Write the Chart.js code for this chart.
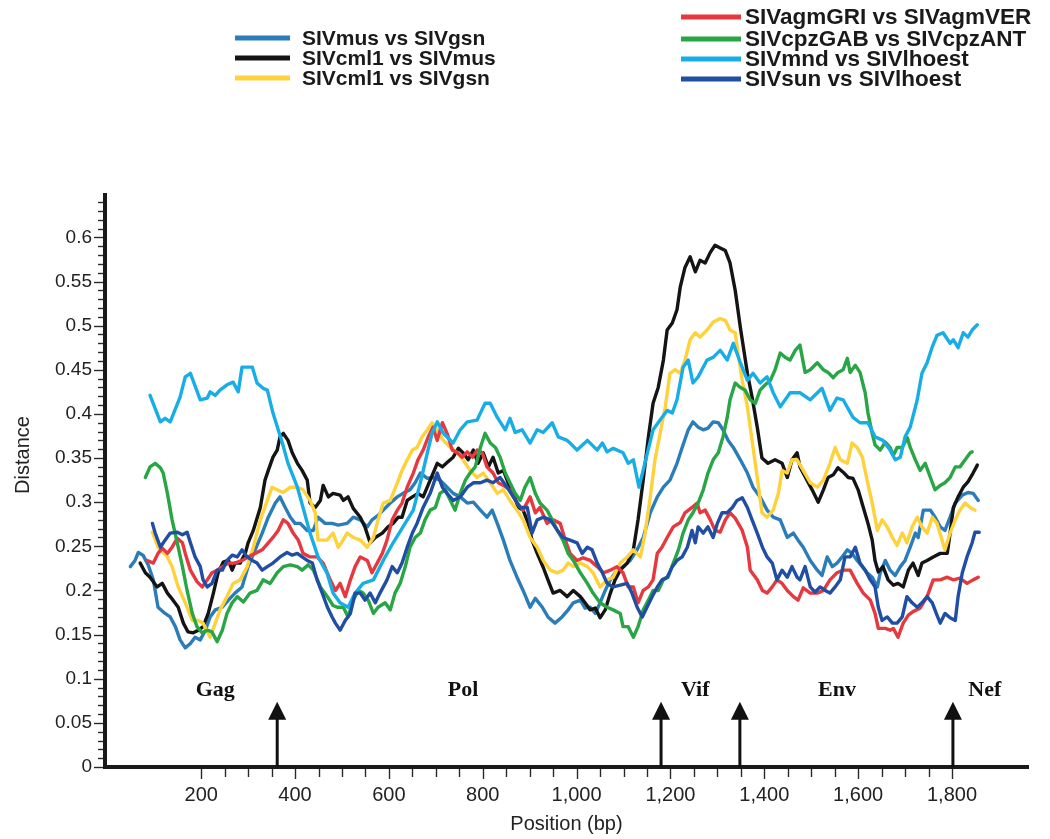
<!DOCTYPE html>
<html>
<head>
<meta charset="utf-8">
<script src="https://cdn.jsdelivr.net/npm/chart.js@4.4.1/dist/chart.umd.min.js"></script>
<style>
  html, body { margin: 0; padding: 0; background: #ffffff; }
  #wrap { position: relative; width: 1050px; height: 839px; }
</style>
</head>
<body>
<div id="wrap"><canvas id="chart" width="1050" height="839"></canvas></div>
<script>
// Pairwise distance along the genome, [position (bp), distance]
const musGsn = [[49,.227],[59,.234],[66,.243],[76,.240],[87,.229],[98,.212],[108,.181],[123,.174],[134,.170],[145,.159],[155,.144],[166,.135],[177,.140],[187,.147],[198,.144],[209,.155],[219,.170],[230,.178],[245,.181],[258,.189],[272,.197],[287,.204],[300,.227],[315,.246],[330,.265],[343,.283],[358,.299],[368,.306],[379,.294],[390,.283],[400,.276],[411,.276],[426,.268],[439,.268],[449,.283],[464,.276],[479,.276],[492,.274],[511,.276],[524,.283],[539,.280],[554,.272],[564,.280],[577,.285],[588,.291],[603,.299],[618,.306],[630,.310],[645,.314],[656,.322],[667,.333],[682,.327],[694,.328],[709,.325],[724,.317],[737,.310],[752,.306],[767,.299],[780,.300],[795,.291],[809,.283],[820,.291],[831,.276],[844,.257],[858,.234],[873,.215],[886,.200],[901,.181],[912,.191],[927,.181],[939,.170],[954,.163],[969,.170],[982,.178],[993,.186],[1008,.189],[1018,.180],[1029,.181],[1040,.174],[1050,.186],[1061,.200],[1072,.212],[1086,.223],[1099,.227],[1114,.234],[1129,.246],[1142,.260],[1157,.288],[1172,.306],[1185,.317],[1199,.325],[1214,.344],[1225,.362],[1238,.382],[1248,.391],[1259,.385],[1270,.382],[1280,.384],[1291,.391],[1302,.390],[1312,.382],[1323,.370],[1334,.362],[1349,.348],[1364,.333],[1376,.317],[1391,.306],[1406,.291],[1419,.283],[1434,.280],[1449,.260],[1462,.265],[1472,.257],[1483,.249],[1498,.234],[1513,.223],[1523,.217],[1534,.238],[1545,.227],[1555,.231],[1566,.238],[1577,.246],[1587,.242],[1598,.234],[1609,.227],[1619,.220],[1630,.215],[1641,.204],[1647,.220],[1658,.234],[1668,.223],[1679,.217],[1690,.227],[1700,.234],[1711,.249],[1722,.265],[1728,.260],[1739,.291],[1754,.291],[1764,.283],[1775,.272],[1785,.268],[1796,.283],[1807,.299],[1822,.308],[1834,.311],[1845,.310],[1856,.302]];

const cml1Mus = [[70,.231],[81,.220],[91,.215],[106,.204],[117,.208],[128,.197],[140,.189],[151,.181],[162,.163],[172,.153],[183,.152],[194,.155],[204,.159],[215,.174],[226,.197],[236,.220],[247,.232],[258,.234],[266,.223],[272,.231],[283,.231],[294,.242],[300,.254],[311,.268],[326,.294],[336,.325],[343,.336],[353,.351],[362,.359],[368,.374],[375,.378],[385,.370],[394,.356],[405,.344],[415,.336],[426,.325],[432,.299],[443,.294],[454,.302],[460,.319],[471,.306],[481,.310],[496,.308],[503,.302],[513,.306],[524,.293],[539,.283],[549,.272],[560,.254],[571,.260],[586,.265],[598,.272],[609,.276],[620,.283],[628,.283],[639,.302],[650,.306],[662,.310],[673,.306],[688,.325],[703,.344],[714,.340],[724,.345],[737,.351],[748,.361],[758,.356],[769,.348],[780,.359],[790,.344],[801,.356],[812,.340],[822,.351],[833,.333],[844,.336],[854,.322],[865,.310],[876,.294],[886,.291],[897,.276],[905,.257],[916,.242],[929,.226],[939,.212],[950,.197],[965,.200],[980,.193],[993,.200],[1008,.193],[1018,.186],[1029,.178],[1040,.180],[1050,.169],[1061,.178],[1072,.197],[1082,.212],[1093,.223],[1108,.231],[1121,.246],[1131,.280],[1142,.325],[1153,.374],[1163,.412],[1174,.430],[1185,.461],[1193,.495],[1204,.503],[1214,.518],[1221,.544],[1231,.566],[1242,.578],[1253,.561],[1263,.574],[1274,.571],[1285,.583],[1295,.591],[1306,.588],[1317,.585],[1327,.571],[1338,.540],[1349,.498],[1364,.446],[1374,.419],[1385,.385],[1395,.350],[1408,.344],[1423,.348],[1438,.344],[1449,.328],[1459,.348],[1470,.356],[1476,.340],[1491,.325],[1502,.314],[1515,.300],[1526,.314],[1536,.328],[1547,.331],[1557,.339],[1568,.334],[1579,.328],[1589,.327],[1600,.314],[1611,.294],[1621,.276],[1630,.257],[1636,.234],[1643,.221],[1653,.227],[1664,.212],[1675,.206],[1685,.208],[1696,.204],[1707,.223],[1717,.231],[1728,.217],[1736,.231],[1747,.234],[1760,.238],[1775,.242],[1790,.242],[1796,.265],[1803,.294],[1813,.306],[1824,.317],[1834,.323],[1845,.333],[1854,.342]];

const cml1Gsn = [[96,.266],[108,.249],[128,.238],[138,.227],[151,.204],[166,.186],[181,.166],[194,.166],[204,.163],[219,.147],[230,.163],[240,.178],[255,.193],[268,.208],[283,.212],[298,.227],[311,.249],[326,.280],[341,.302],[351,.317],[362,.314],[375,.311],[390,.317],[405,.317],[417,.314],[432,.302],[443,.288],[449,.257],[468,.257],[481,.265],[492,.249],[500,.255],[511,.265],[524,.260],[539,.257],[554,.249],[567,.260],[577,.280],[588,.299],[603,.302],[618,.322],[628,.336],[639,.348],[650,.359],[660,.362],[671,.374],[682,.382],[692,.390],[703,.382],[716,.370],[731,.362],[746,.356],[758,.348],[773,.336],[788,.328],[801,.333],[816,.322],[831,.310],[844,.314],[858,.302],[873,.291],[886,.280],[901,.260],[916,.249],[929,.234],[944,.223],[959,.220],[971,.223],[982,.231],[993,.227],[1008,.231],[1023,.227],[1035,.220],[1050,.204],[1065,.212],[1078,.215],[1093,.231],[1108,.238],[1121,.246],[1136,.238],[1146,.265],[1157,.306],[1167,.348],[1178,.378],[1189,.408],[1199,.446],[1210,.450],[1221,.446],[1231,.461],[1242,.484],[1253,.492],[1263,.487],[1278,.495],[1291,.504],[1306,.508],[1317,.506],[1327,.495],[1338,.492],[1344,.469],[1353,.438],[1364,.408],[1374,.370],[1385,.328],[1395,.288],[1406,.283],[1419,.291],[1430,.310],[1438,.336],[1449,.333],[1459,.348],[1470,.348],[1483,.336],[1498,.322],[1513,.317],[1526,.325],[1540,.344],[1551,.362],[1562,.348],[1577,.344],[1587,.367],[1598,.362],[1609,.351],[1619,.325],[1630,.299],[1641,.268],[1651,.280],[1662,.272],[1673,.260],[1683,.251],[1694,.265],[1704,.254],[1715,.272],[1726,.283],[1736,.272],[1747,.265],[1758,.283],[1768,.276],[1779,.257],[1785,.246],[1796,.265],[1807,.280],[1817,.291],[1828,.299],[1839,.294],[1849,.291]];

const agmGriVer = [[85,.234],[98,.231],[108,.242],[117,.248],[128,.242],[138,.249],[149,.259],[160,.254],[166,.242],[177,.223],[191,.210],[202,.204],[213,.212],[223,.220],[234,.223],[245,.227],[258,.231],[272,.231],[287,.234],[300,.238],[315,.242],[330,.246],[343,.254],[353,.260],[364,.268],[375,.280],[385,.276],[396,.265],[407,.257],[417,.242],[432,.238],[447,.238],[460,.231],[475,.212],[486,.200],[496,.208],[507,.193],[518,.212],[528,.227],[539,.238],[554,.234],[564,.220],[575,.231],[586,.242],[596,.257],[607,.280],[618,.291],[628,.299],[639,.317],[652,.333],[662,.348],[673,.359],[684,.374],[694,.385],[703,.370],[714,.390],[724,.378],[735,.359],[746,.356],[756,.351],[767,.357],[778,.351],[788,.359],[799,.356],[809,.340],[822,.333],[833,.322],[844,.319],[858,.314],[873,.299],[886,.291],[901,.306],[912,.288],[922,.294],[937,.276],[950,.280],[965,.276],[976,.257],[986,.242],[1001,.234],[1014,.237],[1029,.234],[1044,.227],[1057,.220],[1072,.223],[1086,.227],[1099,.220],[1110,.204],[1121,.204],[1131,.186],[1142,.200],[1153,.204],[1163,.212],[1172,.242],[1182,.249],[1193,.260],[1206,.272],[1221,.277],[1231,.288],[1246,.294],[1257,.299],[1263,.288],[1274,.291],[1285,.280],[1295,.268],[1306,.266],[1317,.280],[1327,.288],[1338,.282],[1353,.268],[1364,.249],[1370,.223],[1385,.212],[1396,.200],[1406,.197],[1417,.204],[1427,.212],[1438,.208],[1449,.200],[1462,.193],[1472,.189],[1483,.203],[1498,.197],[1513,.197],[1526,.200],[1540,.212],[1555,.220],[1568,.223],[1583,.223],[1598,.208],[1611,.197],[1626,.189],[1636,.174],[1643,.157],[1658,.157],[1668,.155],[1675,.157],[1685,.147],[1696,.163],[1707,.172],[1717,.176],[1732,.180],[1747,.193],[1760,.212],[1775,.212],[1790,.215],[1803,.212],[1817,.214],[1832,.208],[1845,.212],[1856,.215]];

const cpzGabAnt = [[81,.328],[91,.340],[102,.344],[113,.339],[119,.333],[128,.310],[138,.280],[149,.254],[160,.227],[170,.200],[181,.174],[191,.159],[202,.152],[213,.155],[223,.153],[234,.142],[245,.155],[255,.174],[266,.186],[277,.193],[290,.187],[304,.197],[319,.200],[332,.212],[347,.208],[362,.220],[375,.227],[390,.229],[405,.227],[415,.223],[428,.229],[439,.223],[454,.204],[469,.193],[481,.183],[490,.181],[503,.181],[513,.170],[524,.189],[535,.200],[545,.197],[556,.189],[567,.174],[577,.181],[592,.186],[603,.178],[613,.197],[624,.208],[635,.227],[645,.249],[656,.260],[667,.265],[677,.280],[688,.291],[699,.294],[709,.310],[720,.314],[731,.302],[741,.291],[752,.310],[763,.325],[773,.333],[784,.340],[795,.362],[805,.378],[816,.367],[827,.362],[837,.351],[848,.333],[858,.322],[869,.310],[880,.302],[890,.317],[901,.328],[912,.310],[922,.299],[937,.291],[948,.280],[959,.268],[971,.257],[982,.242],[993,.234],[1008,.220],[1023,.208],[1035,.197],[1050,.186],[1065,.181],[1078,.178],[1093,.174],[1099,.159],[1110,.159],[1121,.147],[1131,.159],[1142,.178],[1153,.189],[1163,.200],[1174,.200],[1185,.212],[1195,.215],[1206,.231],[1217,.246],[1227,.265],[1238,.280],[1248,.288],[1259,.299],[1270,.314],[1280,.333],[1291,.348],[1302,.356],[1312,.374],[1321,.396],[1327,.416],[1338,.435],[1349,.430],[1359,.427],[1370,.416],[1381,.412],[1391,.427],[1402,.433],[1413,.438],[1423,.450],[1434,.469],[1445,.464],[1455,.461],[1466,.472],[1476,.478],[1487,.447],[1498,.450],[1513,.458],[1526,.450],[1536,.447],[1547,.441],[1557,.447],[1568,.450],[1577,.463],[1583,.447],[1594,.455],[1604,.447],[1615,.424],[1621,.401],[1630,.378],[1636,.365],[1647,.359],[1658,.368],[1668,.362],[1675,.353],[1683,.362],[1694,.362],[1705,.373],[1711,.362],[1722,.348],[1732,.336],[1743,.344],[1754,.328],[1764,.314],[1775,.319],[1785,.322],[1796,.328],[1807,.340],[1817,.340],[1828,.348],[1839,.356],[1843,.357]];

const mndLhoest = [[91,.421],[113,.391],[123,.395],[134,.391],[155,.419],[166,.442],[177,.446],[198,.416],[213,.418],[219,.425],[230,.421],[240,.427],[255,.433],[268,.436],[279,.425],[287,.453],[309,.453],[319,.435],[332,.429],[341,.427],[353,.401],[373,.367],[385,.344],[405,.317],[417,.294],[432,.265],[449,.238],[468,.220],[481,.197],[496,.186],[513,.181],[528,.197],[545,.208],[567,.212],[588,.234],[609,.254],[630,.272],[652,.291],[667,.322],[682,.356],[692,.378],[703,.391],[716,.378],[737,.367],[752,.382],[767,.391],[788,.393],[805,.412],[816,.412],[831,.396],[848,.382],[858,.395],[869,.379],[884,.382],[901,.367],[916,.382],[929,.379],[948,.390],[961,.374],[980,.370],[986,.367],[1001,.359],[1023,.370],[1044,.359],[1055,.367],[1065,.357],[1078,.361],[1099,.356],[1110,.344],[1121,.348],[1133,.317],[1163,.382],[1178,.393],[1193,.404],[1204,.401],[1214,.416],[1227,.453],[1238,.461],[1248,.435],[1259,.442],[1278,.461],[1291,.464],[1306,.472],[1321,.461],[1334,.480],[1349,.458],[1364,.438],[1376,.446],[1391,.435],[1406,.442],[1419,.424],[1434,.408],[1455,.424],[1476,.424],[1498,.416],[1523,.429],[1540,.404],[1555,.418],[1568,.416],[1589,.396],[1604,.390],[1621,.390],[1636,.374],[1653,.370],[1668,.359],[1679,.348],[1690,.351],[1700,.374],[1711,.385],[1726,.416],[1736,.446],[1747,.458],[1758,.476],[1768,.489],[1781,.492],[1796,.480],[1803,.484],[1813,.475],[1824,.492],[1834,.487],[1843,.495],[1854,.501]];

const sunLhoest = [[96,.276],[102,.265],[113,.249],[123,.257],[134,.265],[149,.266],[160,.263],[170,.266],[177,.254],[187,.238],[198,.227],[204,.212],[213,.204],[223,.208],[234,.223],[245,.223],[255,.234],[266,.240],[277,.238],[287,.246],[298,.238],[309,.234],[319,.231],[330,.223],[341,.227],[353,.231],[368,.238],[383,.243],[394,.240],[405,.242],[415,.238],[426,.234],[437,.231],[447,.212],[458,.197],[469,.181],[479,.170],[486,.163],[496,.155],[507,.166],[518,.174],[528,.197],[539,.197],[549,.189],[560,.197],[571,.186],[581,.197],[596,.212],[607,.227],[618,.220],[628,.231],[639,.249],[650,.265],[660,.276],[673,.294],[688,.310],[703,.333],[714,.317],[724,.310],[737,.302],[752,.306],[767,.317],[780,.322],[795,.322],[809,.325],[822,.322],[837,.328],[852,.317],[865,.306],[880,.294],[895,.294],[905,.265],[916,.280],[929,.283],[944,.280],[959,.268],[971,.260],[986,.257],[1001,.254],[1012,.242],[1023,.249],[1033,.246],[1044,.231],[1055,.220],[1065,.208],[1078,.204],[1093,.206],[1108,.208],[1118,.197],[1129,.181],[1140,.170],[1150,.181],[1161,.193],[1172,.204],[1182,.212],[1193,.215],[1204,.227],[1214,.234],[1225,.238],[1236,.249],[1246,.268],[1253,.254],[1259,.272],[1270,.265],[1280,.272],[1291,.260],[1300,.276],[1310,.288],[1321,.288],[1332,.294],[1342,.302],[1353,.305],[1364,.294],[1374,.280],[1385,.265],[1396,.249],[1406,.238],[1417,.231],[1427,.212],[1438,.223],[1449,.215],[1459,.227],[1470,.215],[1476,.212],[1487,.227],[1498,.204],[1508,.198],[1519,.204],[1530,.200],[1540,.197],[1551,.204],[1562,.212],[1572,.238],[1583,.238],[1594,.249],[1604,.231],[1615,.223],[1626,.212],[1636,.204],[1643,.181],[1651,.166],[1662,.170],[1673,.163],[1683,.163],[1694,.170],[1704,.193],[1715,.186],[1726,.181],[1736,.186],[1747,.193],[1758,.186],[1768,.172],[1775,.163],[1785,.174],[1796,.169],[1807,.166],[1813,.193],[1822,.220],[1832,.238],[1843,.254],[1849,.266],[1858,.266]];

// Series names and colours, in legend order
const seriesNames = ['SIVmus vs SIVgsn', 'SIVcml1 vs SIVmus', 'SIVcml1 vs SIVgsn',
  'SIVagmGRI vs SIVagmVER', 'SIVcpzGAB vs SIVcpzANT', 'SIVmnd vs SIVlhoest', 'SIVsun vs SIVlhoest'];
const seriesData = [musGsn, cml1Mus, cml1Gsn, agmGriVer, cpzGabAnt, mndLhoest, sunLhoest];
const seriesColors = ['#2a7db9', '#141414', '#ffd23c', '#e5383f', '#28a545', '#19ade6', '#1f4ea3'];

// Axis tick values
const xLabelTicks = [200, 400, 600, 800, 1000, 1200, 1400, 1600, 1800];
const yLabelTicks = [0, 0.05, 0.1, 0.15, 0.2, 0.25, 0.3, 0.35, 0.4, 0.45, 0.5, 0.55, 0.6];

// Genes and breakpoint arrows
const geneNames = ['Gag', 'Pol', 'Vif', 'Env', 'Nef'];
const genePos = [230, 758, 1253, 1555, 1870];
const arrowPos = [362, 1180, 1348, 1802];

const FONT = "'Liberation Sans', Arial, sans-serif";
const NARROW = "'Liberation Sans Narrow', 'Liberation Sans', Arial, sans-serif";
const SERIF = "'Liberation Serif', 'Times New Roman', serif";

// Minor/major tick marks on both axes
const axisTicks = {
  id: 'axisTicks',
  afterDraw(chart) {
    const { ctx, chartArea: a, scales: { x, y } } = chart;
    ctx.save();
    ctx.strokeStyle = '#2a2a2a';
    ctx.lineWidth = 1.4;
    for (let i = 0; i <= 64; i++) {
      const py = Math.round(y.getPixelForValue(i / 100)) + 0.5;
      const len = i % 5 === 0 ? 9 : 5;
      ctx.beginPath();
      ctx.moveTo(a.left - 2, py);
      ctx.lineTo(a.left - 2 - len, py);
      ctx.stroke();
    }
    for (let p = 200; p <= 1800; p += 50) {
      const px = Math.round(x.getPixelForValue(p)) + 0.5;
      const len = p % 200 === 0 ? 10 : 8;
      ctx.beginPath();
      ctx.moveTo(px, a.bottom + 2);
      ctx.lineTo(px, a.bottom + 2 + len);
      ctx.stroke();
    }
    ctx.restore();
  }
};

// Gene names and upward arrows marking breakpoints
const geneMarks = {
  id: 'geneMarks',
  afterDatasetsDraw(chart) {
    const { ctx, chartArea: a, scales: { x, y } } = chart;
    ctx.save();
    ctx.fillStyle = '#111';
    ctx.font = 'bold 22px ' + SERIF;
    ctx.textAlign = 'center';
    ctx.textBaseline = 'middle';
    geneNames.forEach((g, i) => ctx.fillText(g, x.getPixelForValue(genePos[i]), y.getPixelForValue(0.087)));
    const tip = y.getPixelForValue(0.074);
    arrowPos.forEach(p => {
      const px = x.getPixelForValue(p);
      ctx.fillRect(px - 1.5, tip + 14, 3, a.bottom - tip - 14);
      ctx.beginPath();
      ctx.moveTo(px, tip);
      ctx.lineTo(px - 9, tip + 18);
      ctx.lineTo(px + 9, tip + 18);
      ctx.closePath();
      ctx.fill();
    });
    ctx.restore();
  }
};

// Two-column legend above the plot, and the rotated y title
const sideText = {
  id: 'sideText',
  afterDraw(chart) {
    const { ctx } = chart;
    ctx.save();
    const rows = [
      { i: 0, lx: 235, len: 55, tx: 302, y: 38, size: 21 },
      { i: 1, lx: 235, len: 55, tx: 302, y: 58, size: 21 },
      { i: 2, lx: 235, len: 55, tx: 302, y: 78, size: 21 },
      { i: 3, lx: 681, len: 60, tx: 745, y: 17, size: 22.5 },
      { i: 4, lx: 681, len: 60, tx: 745, y: 39, size: 22.5 },
      { i: 5, lx: 681, len: 60, tx: 745, y: 59, size: 22.5 },
      { i: 6, lx: 681, len: 60, tx: 745, y: 79, size: 22.5 }
    ];
    ctx.textBaseline = 'middle';
    ctx.textAlign = 'left';
    rows.forEach(r => {
      ctx.strokeStyle = seriesColors[r.i];
      ctx.lineWidth = 5;
      ctx.beginPath();
      ctx.moveTo(r.lx, r.y);
      ctx.lineTo(r.lx + r.len, r.y);
      ctx.stroke();
      ctx.font = 'bold ' + r.size + 'px ' + FONT;
      ctx.fillStyle = '#1a1a1a';
      ctx.fillText(seriesNames[r.i], r.tx, r.y + 1);
    });
    ctx.translate(23, 455);
    ctx.rotate(-Math.PI / 2);
    ctx.textAlign = 'center';
    ctx.font = '20px ' + FONT;
    ctx.fillStyle = '#222';
    ctx.fillText('Distance', 0, 0);
    ctx.restore();
  }
};

const datasets = seriesData.map((s, i) => ({
  label: seriesNames[i],
  data: s.map(([p, d]) => ({ x: p, y: d })),
  borderColor: seriesColors[i],
  backgroundColor: seriesColors[i],
  borderWidth: 3.4,
  pointRadius: 0,
  tension: 0,
  fill: false,
  borderJoinStyle: 'round',
  borderCapStyle: 'round',
  order: seriesData.length - i
}));

new Chart(document.getElementById('chart'), {
  type: 'line',
  data: { datasets },
  plugins: [axisTicks, geneMarks, sideText],
  options: {
    responsive: false,
    animation: false,
    devicePixelRatio: 1,
    layout: { padding: { top: 195, right: 22, left: 0, bottom: 0 } },
    plugins: { legend: { display: false }, tooltip: { enabled: false } },
    scales: {
      x: {
        type: 'linear',
        min: -5,
        max: 1962,
        afterFit(s) { s.height = 72; },
        afterBuildTicks(s) { s.ticks = xLabelTicks.map(v => ({ value: v })); },
        grid: { display: false, drawTicks: false },
        border: { display: true, color: '#1a1a1a', width: 4 },
        ticks: {
          autoSkip: false,
          maxRotation: 0,
          minRotation: 0,
          padding: 16,
          color: '#222',
          font: { family: NARROW, size: 20 },
          callback: v => v.toLocaleString('en-US')
        },
        title: {
          display: true,
          text: 'Position (bp)',
          color: '#222',
          font: { family: NARROW, size: 20 },
          padding: { top: 0, bottom: 3 }
        }
      },
      y: {
        min: 0,
        max: 0.648,
        afterFit(s) { s.width = 105; },
        afterBuildTicks(s) { s.ticks = yLabelTicks.map(v => ({ value: v })); },
        grid: { display: false, drawTicks: false },
        border: { display: true, color: '#1a1a1a', width: 4 },
        ticks: {
          padding: 13,
          color: '#222',
          font: { family: FONT, size: 19 },
          callback: v => String(+Number(v).toFixed(2))
        }
      }
    }
  }
});
</script>
</body>
</html>
